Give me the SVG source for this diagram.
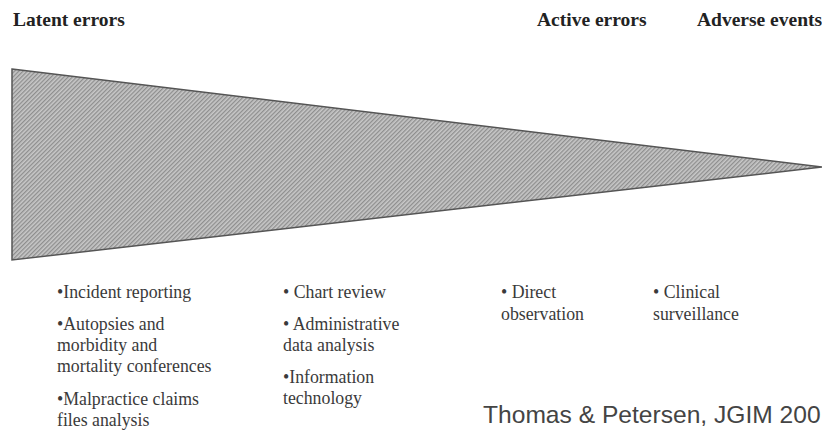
<svg xmlns="http://www.w3.org/2000/svg" width="822" height="430" viewBox="0 0 822 430">
<defs>
<pattern id="hatch" width="3" height="3" patternUnits="userSpaceOnUse" patternTransform="rotate(45)">
<rect width="3" height="3" fill="#c8c8c8"/>
<rect width="1.3" height="3" fill="#8e8e8e"/>
</pattern>
</defs>
<style>
.hdr{font-family:"Liberation Serif","Times New Roman",serif;font-weight:bold;font-size:19.5px;fill:#222}
.it{font-family:"Liberation Serif","Times New Roman",serif;font-size:17.8px;fill:#3a3a3a}
.cite{font-family:"Liberation Sans",Arial,sans-serif;font-size:24.6px;fill:#444}
</style>
<rect width="822" height="430" fill="#fff"/>
<g id="headers">
<text class="hdr" x="13" y="26">Latent errors</text>
<text class="hdr" x="537" y="26">Active errors</text>
<text class="hdr" x="697" y="26">Adverse events</text>
</g>
<g id="wedge">
<polygon points="12,69 822,167 12,260" fill="url(#hatch)" stroke="#555" stroke-width="1.5" stroke-linejoin="miter"/>
</g>
<g id="col1">
<text class="it" x="57" y="298">•Incident reporting</text>
<text class="it" x="57" y="330">•Autopsies and</text>
<text class="it" x="57" y="351">morbidity and</text>
<text class="it" x="57" y="372">mortality conferences</text>
<text class="it" x="57" y="405">•Malpractice claims</text>
<text class="it" x="57" y="426">files analysis</text>
</g>
<g id="col2">
<text class="it" x="283" y="298">• Chart review</text>
<text class="it" x="283" y="330">• Administrative</text>
<text class="it" x="283" y="351">data analysis</text>
<text class="it" x="283" y="383">•Information</text>
<text class="it" x="283" y="404">technology</text>
</g>
<g id="col3">
<text class="it" x="501" y="298">• Direct</text>
<text class="it" x="501" y="320">observation</text>
</g>
<g id="col4">
<text class="it" x="653" y="298">• Clinical</text>
<text class="it" x="653" y="320">surveillance</text>
</g>
<g id="citation">
<text class="cite" x="483" y="423">Thomas &amp; Petersen, JGIM 200</text>
</g>
</svg>
